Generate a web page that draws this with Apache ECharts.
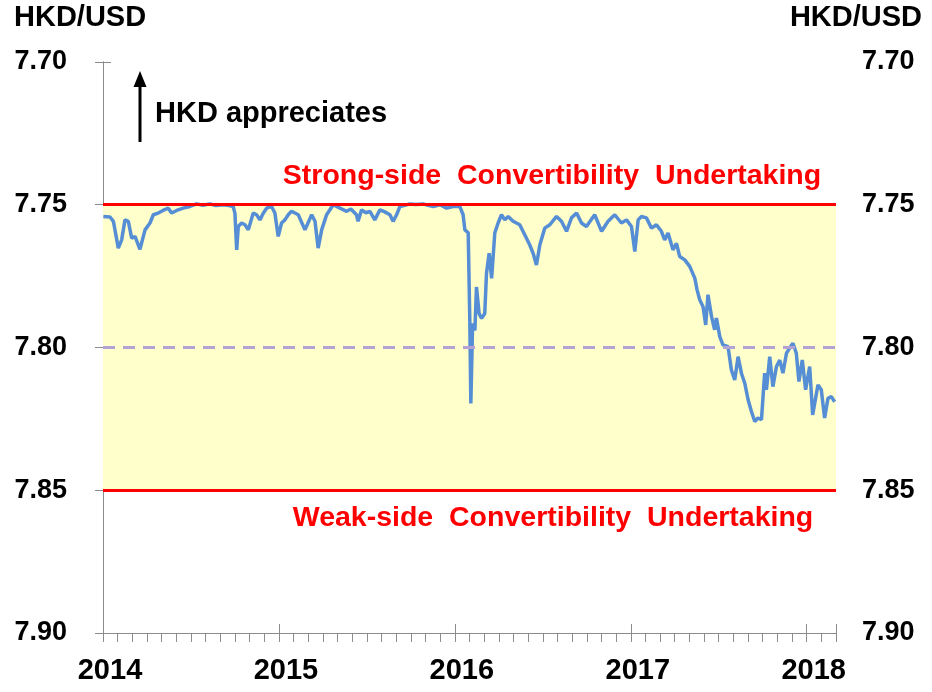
<!DOCTYPE html>
<html>
<head>
<meta charset="utf-8">
<script src="https://cdn.jsdelivr.net/npm/echarts@6/dist/echarts.min.js"></script>
<style>
  html, body { margin: 0; padding: 0; background: #fff; }
  #chart { width: 932px; height: 692px; }
</style>
</head>
<body>
<div id="chart"></div>
<script>
// positions in decimal years
const yearPos = [
  2014.002, 2014.040, 2014.059, 2014.087, 2014.106, 2014.125, 2014.144, 2014.163, 2014.182, 2014.210,
  2014.239, 2014.267, 2014.286, 2014.314, 2014.341, 2014.371, 2014.390, 2014.419, 2014.456, 2014.494,
  2014.532, 2014.568, 2014.608, 2014.642, 2014.684, 2014.716, 2014.740, 2014.750, 2014.760, 2014.769,
  2014.788, 2014.807, 2014.826, 2014.854, 2014.873, 2014.892, 2014.911, 2014.930, 2014.958, 2014.977,
  2014.996, 2015.015, 2015.034, 2015.053, 2015.072, 2015.110, 2015.148, 2015.186, 2015.205, 2015.223,
  2015.243, 2015.271, 2015.309, 2015.347, 2015.385, 2015.409, 2015.441, 2015.450, 2015.470, 2015.494,
  2015.517, 2015.545, 2015.574, 2015.602, 2015.631, 2015.649, 2015.669, 2015.688, 2015.716, 2015.744,
  2015.778, 2015.820, 2015.847, 2015.877, 2015.915, 2015.953, 2015.990, 2016.028, 2016.047, 2016.057,
  2016.076, 2016.085, 2016.091, 2016.101, 2016.114, 2016.123, 2016.138, 2016.152, 2016.170, 2016.180,
  2016.195, 2016.209, 2016.227, 2016.246, 2016.265, 2016.284, 2016.303, 2016.331, 2016.369, 2016.398,
  2016.426, 2016.445, 2016.464, 2016.483, 2016.511, 2016.540, 2016.578, 2016.606, 2016.635, 2016.663,
  2016.692, 2016.720, 2016.748, 2016.795, 2016.834, 2016.871, 2016.909, 2016.947, 2016.976, 2017.004,
  2017.023, 2017.042, 2017.061, 2017.089, 2017.118, 2017.146, 2017.174, 2017.193, 2017.212, 2017.240,
  2017.260, 2017.278, 2017.307, 2017.335, 2017.364, 2017.377, 2017.392, 2017.411, 2017.426, 2017.439,
  2017.459, 2017.477, 2017.487, 2017.506, 2017.524, 2017.553, 2017.572, 2017.591, 2017.610, 2017.629,
  2017.648, 2017.667, 2017.686, 2017.705, 2017.723, 2017.743, 2017.761, 2017.771, 2017.790, 2017.808,
  2017.828, 2017.847, 2017.865, 2017.885, 2017.903, 2017.922, 2017.941, 2017.956, 2017.975, 2017.994,
  2018.017, 2018.034, 2018.064, 2018.083, 2018.102, 2018.121, 2018.140, 2018.159
];

// HKD per USD
const spotRate = [
  7.7541, 7.7543, 7.7558, 7.7652, 7.7623, 7.7553, 7.7558, 7.7617, 7.7611, 7.7656,
  7.7588, 7.7564, 7.7535, 7.7529, 7.7520, 7.7512, 7.7529, 7.7520, 7.7512, 7.7506,
  7.7497, 7.7502, 7.7497, 7.7503, 7.7500, 7.7503, 7.7506, 7.7530, 7.7658, 7.7576,
  7.7564, 7.7570, 7.7588, 7.7529, 7.7535, 7.7553, 7.7530, 7.7512, 7.7506, 7.7529,
  7.7611, 7.7564, 7.7553, 7.7535, 7.7523, 7.7535, 7.7588, 7.7535, 7.7558, 7.7652,
  7.7588, 7.7535, 7.7500, 7.7512, 7.7523, 7.7515, 7.7535, 7.7558, 7.7518, 7.7528,
  7.7523, 7.7553, 7.7518, 7.7525, 7.7535, 7.7558, 7.7535, 7.7506, 7.7502, 7.7497,
  7.7499, 7.7497, 7.7502, 7.7506, 7.7500, 7.7512, 7.7506, 7.7506, 7.7535, 7.7588,
  7.7598, 7.7903, 7.8196, 7.7916, 7.7940, 7.7788, 7.7881, 7.7898, 7.7881, 7.7740,
  7.7670, 7.7758, 7.7599, 7.7564, 7.7535, 7.7553, 7.7541, 7.7558, 7.7570, 7.7606,
  7.7641, 7.7670, 7.7711, 7.7641, 7.7582, 7.7570, 7.7541, 7.7558, 7.7593, 7.7546,
  7.7529, 7.7564, 7.7576, 7.7535, 7.7593, 7.7558, 7.7535, 7.7564, 7.7553, 7.7576,
  7.7664, 7.7553, 7.7541, 7.7546, 7.7582, 7.7570, 7.7593, 7.7623, 7.7599, 7.7658,
  7.7635, 7.7681, 7.7693, 7.7716, 7.7757, 7.7798, 7.7833, 7.7857, 7.7921, 7.7815,
  7.7891, 7.7938, 7.7897, 7.7962, 7.7991, 7.7997, 7.8079, 7.8114, 7.8032, 7.8090,
  7.8125, 7.8183, 7.8224, 7.8259, 7.8247, 7.8253, 7.8090, 7.8148, 7.8032, 7.8137,
  7.8067, 7.8044, 7.8090, 7.8020, 7.8002, 7.7985, 7.8020, 7.8119, 7.8044, 7.8148,
  7.8067, 7.8236, 7.8131, 7.8148, 7.8247, 7.8178, 7.8172, 7.8190
];

const firstYear = 2014;
const axisMonths = 50; // Jan 2014 .. Mar 2018
const yTicks = [7.70, 7.75, 7.80, 7.85, 7.90];
const strongSide = 7.75;
const weakSide = 7.85;
const linkRate = 7.80;

const FONT = '"Liberation Sans", Arial, sans-serif';
const AXIS_GREY = '#8c8c8c';

const chart = echarts.init(document.getElementById('chart'));

const lineData = yearPos.map((y, i) => [(y - firstYear) * 12, spotRate[i]]);

const yAxisBase = {
  type: 'value',
  inverse: true,
  min: yTicks[0],
  max: yTicks[yTicks.length - 1],
  interval: 0.05,
  splitLine: { show: false },
  axisLine: { show: true, lineStyle: { color: AXIS_GREY, width: 1 } },
  axisTick: { show: true, inside: false, length: 8, lineStyle: { color: AXIS_GREY } },
  axisLabel: {
    fontFamily: FONT, fontWeight: 'bold', fontSize: 27, color: '#000',
    formatter: v => v.toFixed(2)
  }
};

function txt(x, y, text, size, fill, align) {
  return {
    type: 'text', x: x, y: y,
    style: {
      text: text, font: 'bold ' + size + 'px ' + FONT, fill: fill,
      align: align, verticalAlign: 'middle', textAlign: align, textVerticalAlign: 'middle'
    }
  };
}

chart.setOption({
  animation: false,
  grid: { left: 103, right: 96, top: 62, bottom: 59, containLabel: false },
  xAxis: [
    {
      type: 'value', min: 0, max: axisMonths, interval: 12,
      position: 'bottom',
      splitLine: { show: false },
      axisLine: { onZero: false, lineStyle: { color: AXIS_GREY, width: 1 } },
      axisTick: { inside: true, length: 9, lineStyle: { color: AXIS_GREY } },
      axisLabel: {
        margin: 23, padding: [0, 0, 0, 14],
        fontFamily: FONT, fontWeight: 'bold', fontSize: 29, color: '#000',
        formatter: v => (v % 12 === 0 ? String(firstYear + v / 12) : '')
      }
    },
    {
      type: 'value', min: 0, max: axisMonths, interval: 1,
      position: 'bottom', offset: 0,
      splitLine: { show: false },
      axisLine: { show: false, onZero: false },
      axisTick: { inside: false, length: 9, lineStyle: { color: AXIS_GREY } },
      axisLabel: { show: false }
    }
  ],
  yAxis: [
    Object.assign({}, yAxisBase, { position: 'left', axisLabel: Object.assign({}, yAxisBase.axisLabel, { margin: 36 }) }),
    Object.assign({}, yAxisBase, { position: 'right', axisLabel: Object.assign({}, yAxisBase.axisLabel, { margin: 26 }) })
  ],
  series: [
    {
      type: 'line', data: [], z: 1, silent: true,
      markArea: {
        silent: true,
        itemStyle: { color: '#FFFFCC' },
        data: [[{ yAxis: strongSide }, { yAxis: weakSide }]]
      }
    },
    {
      name: 'Spot exchange rate',
      type: 'line', z: 2,
      data: lineData,
      showSymbol: false,
      lineStyle: { color: '#558ED5', width: 3.5 },
      itemStyle: { color: '#558ED5' }
    },
    {
      type: 'line', data: [], z: 3, silent: true,
      markLine: {
        silent: true, symbol: 'none',
        label: { show: false },
        data: [
          { yAxis: strongSide, lineStyle: { color: '#FF0000', width: 3, type: 'solid' } },
          { yAxis: weakSide, lineStyle: { color: '#FF0000', width: 3, type: 'solid' } },
          { yAxis: linkRate, lineStyle: { color: '#B3A2D3', width: 3, type: [12, 8] } }
        ]
      }
    }
  ],
  graphic: [
    txt(14, 18, 'HKD/USD', 29, '#000', 'left'),
    txt(922, 18, 'HKD/USD', 29, '#000', 'right'),
    { type: 'line', shape: { x1: 140, y1: 84, x2: 140, y2: 142 }, style: { stroke: '#000', lineWidth: 3 } },
    { type: 'polygon', shape: { points: [[140, 71], [133.5, 87], [146.5, 87]] }, style: { fill: '#000' } },
    txt(155, 114, 'HKD appreciates', 29, '#000', 'left'),
    txt(552, 176, 'Strong-side  Convertibility  Undertaking', 28.5, '#FF0000', 'center'),
    txt(553, 518, 'Weak-side  Convertibility  Undertaking', 28.5, '#FF0000', 'center'),
    txt(182, 398, 'Spot exchange rate', 28, '#558ED5', 'left')
  ]
});
</script>
</body>
</html>
